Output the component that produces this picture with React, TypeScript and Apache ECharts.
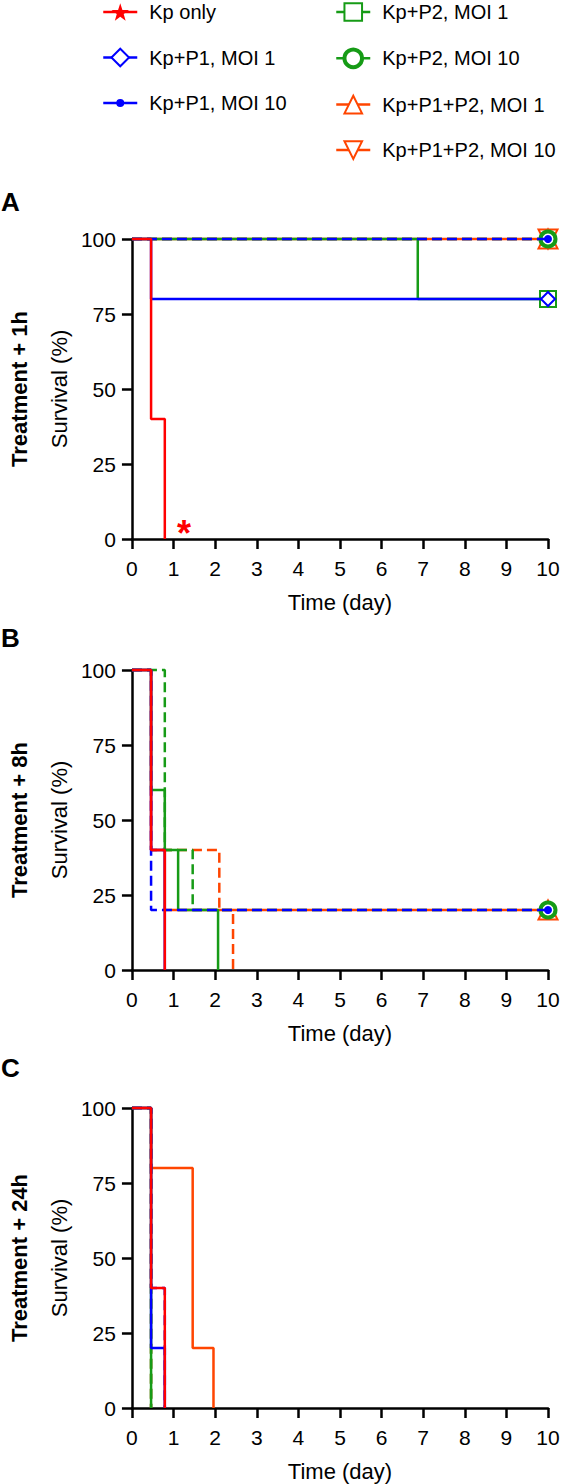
import React, { useEffect, useRef } from "react";
import * as echarts from "echarts";

const FONT = '"Liberation Sans", Arial, Helvetica, sans-serif';

// Legend / series names
const KP = "Kp only";
const P1_1 = "Kp+P1, MOI 1";
const P1_10 = "Kp+P1, MOI 10";
const P2_1 = "Kp+P2, MOI 1";
const P2_10 = "Kp+P2, MOI 10";
const P12_1 = "Kp+P1+P2, MOI 1";
const P12_10 = "Kp+P1+P2, MOI 10";
const LEGEND_LEFT = [KP, P1_1, P1_10];
const LEGEND_RIGHT = [P2_1, P2_10, P12_1, P12_10];

const PANEL_LETTERS = ["A", "B", "C"];
const PANEL_TITLES = ["Treatment + 1h", "Treatment + 8h", "Treatment + 24h"];
const X_MAX_DAY = 10;
const END_DAY = 10;

// Kaplan-Meier drops: [day, survival (%) after the drop]; curves start at 100 on day 0
const A_KP = [[0.46, 40], [0.79, 0]];
const A_P1_1 = [[0.46, 80]];
const A_P1_10: number[][] = [];
const A_P2_1 = [[6.87, 80]];
const A_P2_10: number[][] = [];
const A_P12_1: number[][] = [];
const A_P12_10: number[][] = [];

const B_KP = [[0.46, 40], [0.79, 0]];
const B_P1_1 = [[0.46, 40], [0.79, 0]];
const B_P1_10 = [[0.46, 20]];
const B_P2_1 = [[0.46, 60], [0.79, 40], [1.11, 20], [2.07, 0]];
const B_P2_10 = [[0.79, 40], [1.46, 20]];
const B_P12_1 = [[0.46, 40], [0.79, 20]];
const B_P12_10 = [[0.46, 40], [2.1, 20], [2.43, 0]];

const C_KP = [[0.46, 40], [0.79, 0]];
const C_P1_1 = [[0.46, 20], [0.79, 0]];
const C_P1_10 = [[0.46, 40], [0.79, 0]];
const C_P2_1 = [[0.46, 0]];
const C_P2_10 = [[0.46, 0]];
const C_P12_1 = [[0.46, 80], [1.46, 20], [1.96, 0]];
const C_P12_10 = [[0.46, 0]];

// significance mark in panel A: [day, survival]
const A_ASTERISK = [1.25, 2];

const PANELS = [
  { [KP]: A_KP, [P1_1]: A_P1_1, [P1_10]: A_P1_10, [P2_1]: A_P2_1, [P2_10]: A_P2_10, [P12_1]: A_P12_1, [P12_10]: A_P12_10 },
  { [KP]: B_KP, [P1_1]: B_P1_1, [P1_10]: B_P1_10, [P2_1]: B_P2_1, [P2_10]: B_P2_10, [P12_1]: B_P12_1, [P12_10]: B_P12_10 },
  { [KP]: C_KP, [P1_1]: C_P1_1, [P1_10]: C_P1_10, [P2_1]: C_P2_1, [P2_10]: C_P2_10, [P12_1]: C_P12_1, [P12_10]: C_P12_10 },
] as Record<string, number[][]>[];

const RED = "#ff0000";
const BLUE = "#0000ff";
const GREEN = "#169b16";
const ORANGE = "#ff4500";
const STAR = "path://M50,0 L61.8,35.3 L98,35.3 L68.8,57.1 L79.4,92 L50,70.5 L20.6,92 L31.2,57.1 L2,35.3 L38.2,35.3 Z";
const DOT_LEGEND_ICON = "path://M0,3 L34,3 L34,5.5 L0,5.5 Z M21,4.25 A4,4 0 1,1 13,4.25 A4,4 0 1,1 21,4.25 Z";

// bottom -> top drawing order
const STYLES: Record<string, any> = {
  [P12_10]: { color: ORANGE, dash: true, symbol: "triangle", rotate: 180, size: 19, item: { color: "#fff", borderColor: ORANGE, borderWidth: 2 } },
  [P12_1]: { color: ORANGE, dash: false, symbol: "triangle", rotate: 0, size: 19, item: { color: "#fff", borderColor: ORANGE, borderWidth: 2 } },
  [P2_10]: { color: GREEN, dash: true, symbol: "circle", rotate: 0, size: 15, item: { color: "#fff", borderColor: GREEN, borderWidth: 4 } },
  [P2_1]: { color: GREEN, dash: false, symbol: "rect", rotate: 0, size: 16, item: { color: "#fff", borderColor: GREEN, borderWidth: 2 } },
  [P1_10]: { color: BLUE, dash: true, symbol: "circle", rotate: 0, size: 8, item: { color: BLUE } },
  [P1_1]: { color: BLUE, dash: false, symbol: "diamond", rotate: 0, size: 14, item: { color: "#fff", borderColor: BLUE, borderWidth: 2 } },
  [KP]: { color: RED, dash: false, symbol: STAR, rotate: 0, size: 16, item: { color: RED } },
};
const DRAW_ORDER = [P12_10, P12_1, P2_10, P2_1, P1_10, P1_1, KP];

const GRID_TOPS = [239, 670, 1108];
const GRID_LEFT = 116;
const GRID_W = 432;
const GRID_H = 300;
const LETTER_Y = [202, 638, 1068];

function stepPoints(drops: number[][]) {
  const pts: any[] = [{ value: [0, 100], symbol: "none" }];
  let s = 100;
  for (const [t, v] of drops) {
    pts.push({ value: [t, s], symbol: "none" });
    pts.push({ value: [t, v], symbol: "none" });
    s = v;
  }
  if (s > 0) pts.push({ value: [END_DAY, s] });
  return pts;
}

function legendData(names: string[]) {
  return names.map((n) => (n === P1_10 ? { name: n, icon: DOT_LEGEND_ICON } : { name: n }));
}

export default function App() {
  const ref = useRef<HTMLDivElement>(null);
  useEffect(() => {
    if (!ref.current) return;
    const chart = echarts.init(ref.current, null, { renderer: "svg" });
    const grids: any[] = [];
    const xAxes: any[] = [];
    const yAxes: any[] = [];
    const series: any[] = [];
    const graphics: any[] = [];
    PANELS.forEach((panel, i) => {
      grids.push({ left: GRID_LEFT, top: GRID_TOPS[i], width: GRID_W, height: GRID_H });
      xAxes.push({
        gridIndex: i, type: "value", min: 0, max: X_MAX_DAY, interval: 1,
        axisLine: { show: true, onZero: false, lineStyle: { color: "#000", width: 2.5 } },
        axisTick: { show: true, length: 10, lineStyle: { color: "#000", width: 2.5 } },
        axisLabel: { fontSize: 21, color: "#000", margin: 19, fontFamily: FONT },
        splitLine: { show: false },
        name: "Time (day)", nameLocation: "middle", nameGap: 52,
        nameTextStyle: { fontSize: 22, color: "#000", fontFamily: FONT },
      });
      yAxes.push({
        gridIndex: i, type: "value", min: 0, max: 100, interval: 25,
        axisLine: { show: true, onZero: false, lineStyle: { color: "#000", width: 2.5 } },
        axisTick: { show: true, length: 10, lineStyle: { color: "#000", width: 2.5 } },
        axisLabel: { fontSize: 21, color: "#000", margin: 16, fontFamily: FONT },
        splitLine: { show: false },
        name: `{b|${PANEL_TITLES[i]}}\n{r|Survival (%)}`,
        nameLocation: "middle", nameGap: 40,
        nameTextStyle: {
          color: "#000",
          rich: {
            b: { fontWeight: "bold", fontSize: 22, lineHeight: 40, fontFamily: FONT, color: "#000" },
            r: { fontSize: 22, lineHeight: 40, fontFamily: FONT, color: "#000" },
          },
        },
      });
      DRAW_ORDER.forEach((name, k) => {
        const st = STYLES[name];
        const s: any = {
          type: "line", name, xAxisIndex: i, yAxisIndex: i,
          data: stepPoints(panel[name]),
          symbol: st.symbol, symbolSize: st.size, symbolRotate: st.rotate,
          showSymbol: true, clip: false, z: 2 + k * 0.01,
          lineStyle: { color: st.color, width: 2.5, type: st.dash ? [10, 5] : "solid" },
          itemStyle: st.item,
          emphasis: { disabled: true },
        };
        if (i === 0 && name === KP) {
          s.markPoint = {
            symbol: "circle", symbolSize: 1, itemStyle: { color: "rgba(0,0,0,0)" },
            label: { show: true, formatter: "*", position: "inside", color: RED, fontSize: 36, fontWeight: "bold", fontFamily: FONT },
            data: [{ coord: A_ASTERISK }],
          };
        }
        series.push(s);
      });
      graphics.push({
        type: "text", x: 1, y: LETTER_Y[i],
        style: { text: PANEL_LETTERS[i], font: `bold 26px ${FONT}`, fill: "#000", verticalAlign: "middle", align: "left" },
      });
    });
    const legendBase = {
      orient: "vertical", padding: 0, itemWidth: 34, itemHeight: 22, itemGap: 25.5, top: 2,
      selectedMode: false,
      textStyle: { fontSize: 20, color: "#000", fontFamily: FONT, padding: [0, 0, 0, 7] },
      lineStyle: { type: "solid", width: 2.5 },
      itemStyle: { borderWidth: "inherit" },
    };
    chart.setOption({
      animation: false,
      backgroundColor: "#fff",
      grid: grids,
      xAxis: xAxes,
      yAxis: yAxes,
      series,
      graphic: graphics,
      legend: [
        { ...legendBase, left: 102, data: legendData(LEGEND_LEFT) },
        { ...legendBase, left: 335, data: legendData(LEGEND_RIGHT) },
      ],
    });
    return () => chart.dispose();
  }, []);
  return <div ref={ref} style={{ position: "absolute", left: 0, top: 0, width: 567, height: 1484 }} />;
}
